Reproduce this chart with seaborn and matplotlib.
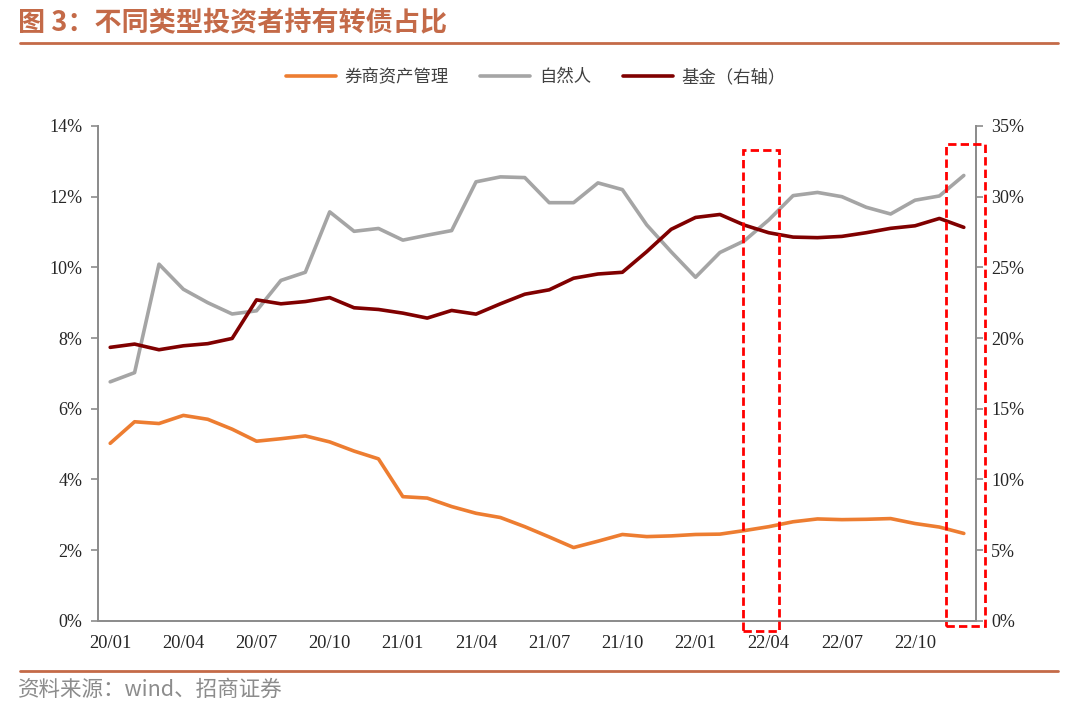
import pandas as pd
import matplotlib
matplotlib.use('Agg')
import matplotlib.pyplot as plt
import seaborn as sns
from matplotlib.patches import Rectangle
from matplotlib.lines import Line2D
from matplotlib.ticker import FuncFormatter

sns.set_style('white')
plt.rcParams['font.family'] = ['Liberation Serif', 'Noto Sans CJK SC', 'DejaVu Sans']

# 月份 20/01 - 22/12
months = [f'{y}/{m:02d}' for y in (20, 21, 22) for m in range(1, 13)]

# 券商资产管理（左轴, %）
quanshang = [5.02, 5.63, 5.58, 5.81, 5.70, 5.42, 5.08, 5.15, 5.23, 5.06, 4.80, 4.58,
             3.51, 3.47, 3.23, 3.04, 2.92, 2.66, 2.37, 2.07, 2.25, 2.44, 2.38, 2.40,
             2.44, 2.45, 2.55, 2.66, 2.80, 2.88, 2.86, 2.87, 2.89, 2.75, 2.65, 2.47]
# 自然人（左轴, %）
ziranren = [6.76, 7.02, 10.09, 9.38, 9.00, 8.68, 8.77, 9.63, 9.86, 11.57, 11.02, 11.10,
            10.77, 10.91, 11.04, 12.42, 12.56, 12.54, 11.83, 11.83, 12.39, 12.20, 11.20, 10.44,
            9.72, 10.42, 10.75, 11.34, 12.03, 12.12, 12.00, 11.70, 11.51, 11.90, 12.02, 12.60]
# 基金（右轴, %）
jijin = [19.34, 19.57, 19.17, 19.45, 19.60, 19.97, 22.70, 22.42, 22.58, 22.86, 22.14, 22.02,
         21.76, 21.41, 21.95, 21.69, 22.42, 23.10, 23.41, 24.23, 24.53, 24.65, 26.11, 27.69,
         28.53, 28.74, 27.99, 27.45, 27.14, 27.10, 27.19, 27.45, 27.76, 27.94, 28.46, 27.83]

labels = ['券商资产管理', '自然人', '基金（右轴）']
colors = ['#ED7D31', '#A5A5A5', '#800000']

# 红色虚线框（x为月份序号, y为左轴%）
boxes = [(25.93, -0.29, 1.51, 13.62), (34.29, -0.15, 1.56, 13.65)]

df = pd.DataFrame({'月份': months, '券商资产管理': quanshang, '自然人': ziranren, '基金': jijin})

title_color = '#C46A48'
spine_color = '#8C8C8C'

fig = plt.figure(figsize=(10.8, 7.08), dpi=100)
ax = fig.add_axes([98 / 1080, 1 - 620.7 / 708, (976 - 98) / 1080, (620.7 - 126) / 708])
ax2 = ax.twinx()

sns.lineplot(data=df, x='月份', y='券商资产管理', ax=ax, color=colors[0], lw=2.6, sort=False)
sns.lineplot(data=df, x='月份', y='自然人', ax=ax, color=colors[1], lw=2.6, sort=False)
sns.lineplot(data=df, x='月份', y='基金', ax=ax2, color=colors[2], lw=2.6, sort=False)

ax.set_xlim(-0.5, len(months) - 0.5)
ax.set_ylim(0, 14)
ax2.set_ylim(0, 35)
ax.set_yticks(range(0, 15, 2))
ax2.set_yticks(range(0, 36, 5))
pct = FuncFormatter(lambda v, p: f'{v:.0f}%')
ax.yaxis.set_major_formatter(pct)
ax2.yaxis.set_major_formatter(pct)

ax.set_xticks(range(0, len(months), 3))
ax.set_xticklabels(months[::3])
ax.set_xticks([i - 0.5 for i in range(0, len(months) + 1, 3)], minor=True)
ax.tick_params(axis='x', which='major', length=0, labelsize=13.3, pad=10)
ax.tick_params(axis='x', which='minor', length=5, width=1.2, color=spine_color, direction='out')
ax.tick_params(axis='y', length=5, width=1.2, color=spine_color, direction='out',
               labelsize=13, pad=6, left=True)
ax2.tick_params(axis='y', length=5, width=1.2, color=spine_color, direction='out',
                labelsize=13, pad=6, right=True)

ax.set_xlabel('')
ax.set_ylabel('')
ax2.set_ylabel('')
for a in (ax, ax2):
    a.spines['top'].set_visible(False)
    for s in ('left', 'right', 'bottom'):
        a.spines[s].set_color(spine_color)
        a.spines[s].set_linewidth(1.3)
    a.grid(False)

for (x0, y0, w, h) in boxes:
    ax2.add_patch(Rectangle((x0, y0), w, h, transform=ax.transData, fill=False,
                            edgecolor='#FF0000', lw=2, linestyle=(0, (3, 1.5)),
                            clip_on=False, zorder=5))

handles = [Line2D([], [], color=c, lw=2.6) for c in colors]
fig.legend(handles, labels, loc='center', bbox_to_anchor=(0.496, 1 - 77 / 708), ncol=3,
           frameon=False, handlelength=2.9, columnspacing=1.8, handletextpad=0.5,
           prop={'family': ['Noto Sans CJK SC'], 'size': 12.5}, labelcolor='#404040')

fig.text(18 / 1080, 1 - 23 / 708, '图 3：不同类型投资者持有转债占比', ha='left', va='center',
         fontsize=19.5, fontweight='bold', color=title_color, family=['Noto Sans CJK SC'])
fig.add_artist(Line2D([20 / 1080, 1058 / 1080], [1 - 42.5 / 708] * 2, transform=fig.transFigure,
                      color=title_color, lw=2))
fig.add_artist(Line2D([20 / 1080, 1058 / 1080], [1 - 671 / 708] * 2, transform=fig.transFigure,
                      color=title_color, lw=2))
fig.text(18 / 1080, 1 - 690 / 708, '资料来源：wind、招商证券', ha='left', va='center',
         fontsize=15.5, color='#8C8C8C', family=['Noto Sans CJK SC'])

fig.savefig('out.png', dpi=100)
